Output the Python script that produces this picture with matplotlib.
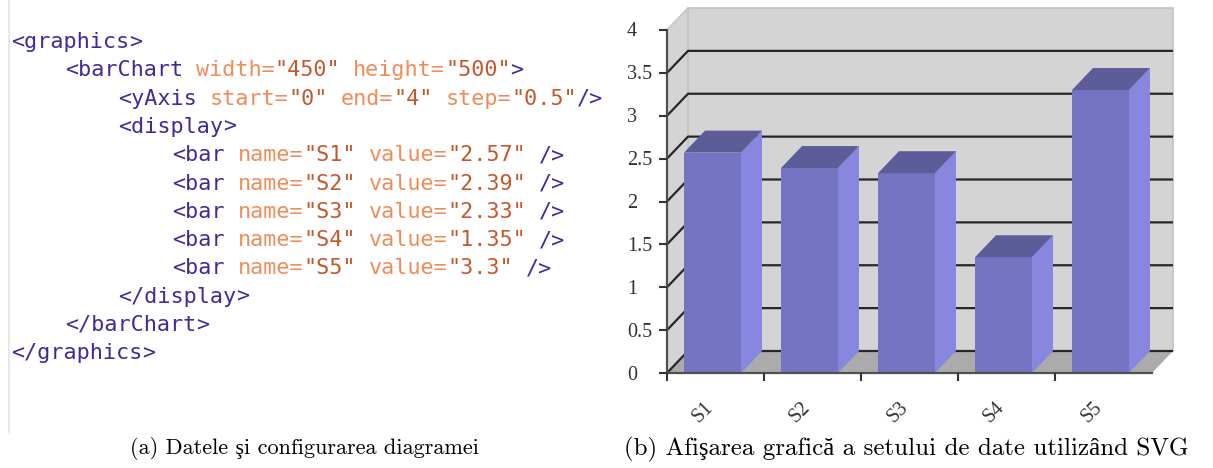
import re
import matplotlib
matplotlib.use("Agg")
import matplotlib.pyplot as plt
from matplotlib.patches import Polygon

# data
names = ["S1", "S2", "S3", "S4", "S5"]
values = [2.57, 2.39, 2.33, 1.35, 3.3]
ytick_values = [0, 0.5, 1, 1.5, 2, 2.5, 3, 3.5, 4]
ytick_labels = ["0", "0.5", "1", "1.5", "2", "2.5", "3", "3.5", "4"]
chart_width, chart_height = 450, 500

code_lines = (
    ["<graphics>",
     f'    <barChart width="{chart_width}" height="{chart_height}">',
     '        <yAxis start="0" end="4" step="0.5"/>',
     "        <display>"]
    + [f'            <bar name="{n}" value="{v}" />' for n, v in zip(names, values)]
    + ["        </display>",
       "    </barChart>",
       "</graphics>"]
)
caption_a = "(a) Datele şi configurarea diagramei"
caption_b = "(b) Afişarea grafică a setului de date utilizând SVG"

# layout (pixels)
W, H = 1213, 468
X0, CAT, Y0, UNIT = 667, 97, 373, 85.75
DEPTH_X, DEPTH_Y = 21, 22
BAR_OFF, BAR_W = 17, 57

TAG_C, ATTR_C, VAL_C = "#3a2d9c", "#f08c5a", "#c4572b"
FRONT_C, SIDE_C, TOP_C = "#7474c2", "#8787df", "#5c5c99"
WALL_C, FLOOR_C = "#d4d4d4", "#ababab"

fig = plt.figure(figsize=(W / 100, H / 100), dpi=100)
canvas = fig.add_axes([0, 0, 1, 1])
canvas.set_xlim(0, W)
canvas.set_ylim(H, 0)
canvas.axis("off")

# ---- panel (a): xml source ----
canvas.plot([8.5, 8.5], [0, 432], color="#e4e4e4", lw=1.2)
INDENT_X = [11, 65, 118, 172]
CHAR_W = 13.1
# font size chosen so one monospace advance equals CHAR_W pixels
mono = dict(family="DejaVu Sans Mono", fontsize=CHAR_W / 0.602 / (100 / 72))
token_re = re.compile(r'(</?\w+|/?>|\w+=|"[^"]*"|\s+)')
for row, line in enumerate(code_lines):
    stripped = line.lstrip(" ")
    x = INDENT_X[(len(line) - len(stripped)) // 4]
    y = 48 + row * 28.3
    col = 0
    for tok in token_re.findall(stripped):
        if not tok.isspace():
            if tok.startswith("<") or tok.endswith(">"):
                c = TAG_C
            elif tok.endswith("="):
                c = ATTR_C
            else:
                c = VAL_C
            canvas.text(x + col * CHAR_W, y, tok, color=c, ha="left",
                        va="baseline", **mono)
        col += len(tok)

cap = dict(family=["cmr10", "Liberation Serif"], ha="center",
           va="center", color="black")
canvas.text(304.5, 449, caption_a, fontsize=16, **cap)
canvas.text(906, 449, caption_b, fontsize=18, **cap)

# ---- panel (b): pseudo 3d bar chart ----
ax = fig.add_axes([600 / W, 0, (W - 600) / W, 1])
ax.set_xlim((600 - X0) / CAT, (W - X0) / CAT)
ax.set_ylim(-(H - Y0) / UNIT, Y0 / UNIT)
ax.axis("off")
ax.patch.set_alpha(0)

n = len(names)
top = ytick_values[-1]
dx, dy = DEPTH_X / CAT, DEPTH_Y / UNIT
off, bw = BAR_OFF / CAT, BAR_W / CAT

ax.add_patch(Polygon([(0, 0), (0, top), (dx, top + dy), (dx, dy)],
                     fc=WALL_C, ec="none", zorder=1))
ax.add_patch(Polygon([(dx, dy), (n + dx, dy), (n + dx, top + dy), (dx, top + dy)],
                     fc=WALL_C, ec="#c2c2c2", lw=1.2, zorder=1))
ax.add_patch(Polygon([(0, 0), (n, 0), (n + dx, dy), (dx, dy)],
                     fc=FLOOR_C, ec="none", zorder=1))
ax.plot([0, dx], [top, top + dy], color="#c6c6c6", lw=1.2, zorder=1.5)

for v in ytick_values[:-1]:
    ax.plot([0, dx, n + dx], [v, v + dy, v + dy], color="#262626",
            lw=1.6, zorder=2, solid_capstyle="butt")

xs = [i + off for i in range(n)]
ax.bar(xs, values, width=bw, align="edge", color=FRONT_C, zorder=3)
for x, v in zip(xs, values):
    ax.add_patch(Polygon([(x + bw, 0), (x + bw + dx, dy), (x + bw + dx, v + dy),
                          (x + bw, v)], fc=SIDE_C, ec="none", zorder=3))
    ax.add_patch(Polygon([(x, v), (x + bw, v), (x + bw + dx, v + dy),
                          (x + dx, v + dy)], fc=TOP_C, ec="none", zorder=3))

ax.plot([0, 0], [0, top], color="#505050", lw=1.6, zorder=5)
ax.plot([0, n], [0, 0], color="#505050", lw=1.6, zorder=5)
ax.plot([0] * len(ytick_values), ytick_values, ls="none", marker=0, ms=5.5,
        mew=1.5, color="#333333", zorder=5)
ax.plot(range(n), [0] * n, ls="none", marker=3, ms=6, mew=1.5,
        color="#333333", zorder=5)

lab = dict(family="Liberation Serif", fontsize=14.5, color="#333333")
for v, t in zip(ytick_values, ytick_labels):
    ax.annotate(t, xy=(0, v), xytext=(-40, -2), textcoords="offset pixels",
                ha="left", va="center", **lab)
for i, name in enumerate(names):
    ax.annotate(name, xy=(i + 0.5, 0), xytext=(-12, -39),
                textcoords="offset pixels", rotation=45, ha="center",
                va="center", **lab)

fig.savefig("out.png", dpi=100)
